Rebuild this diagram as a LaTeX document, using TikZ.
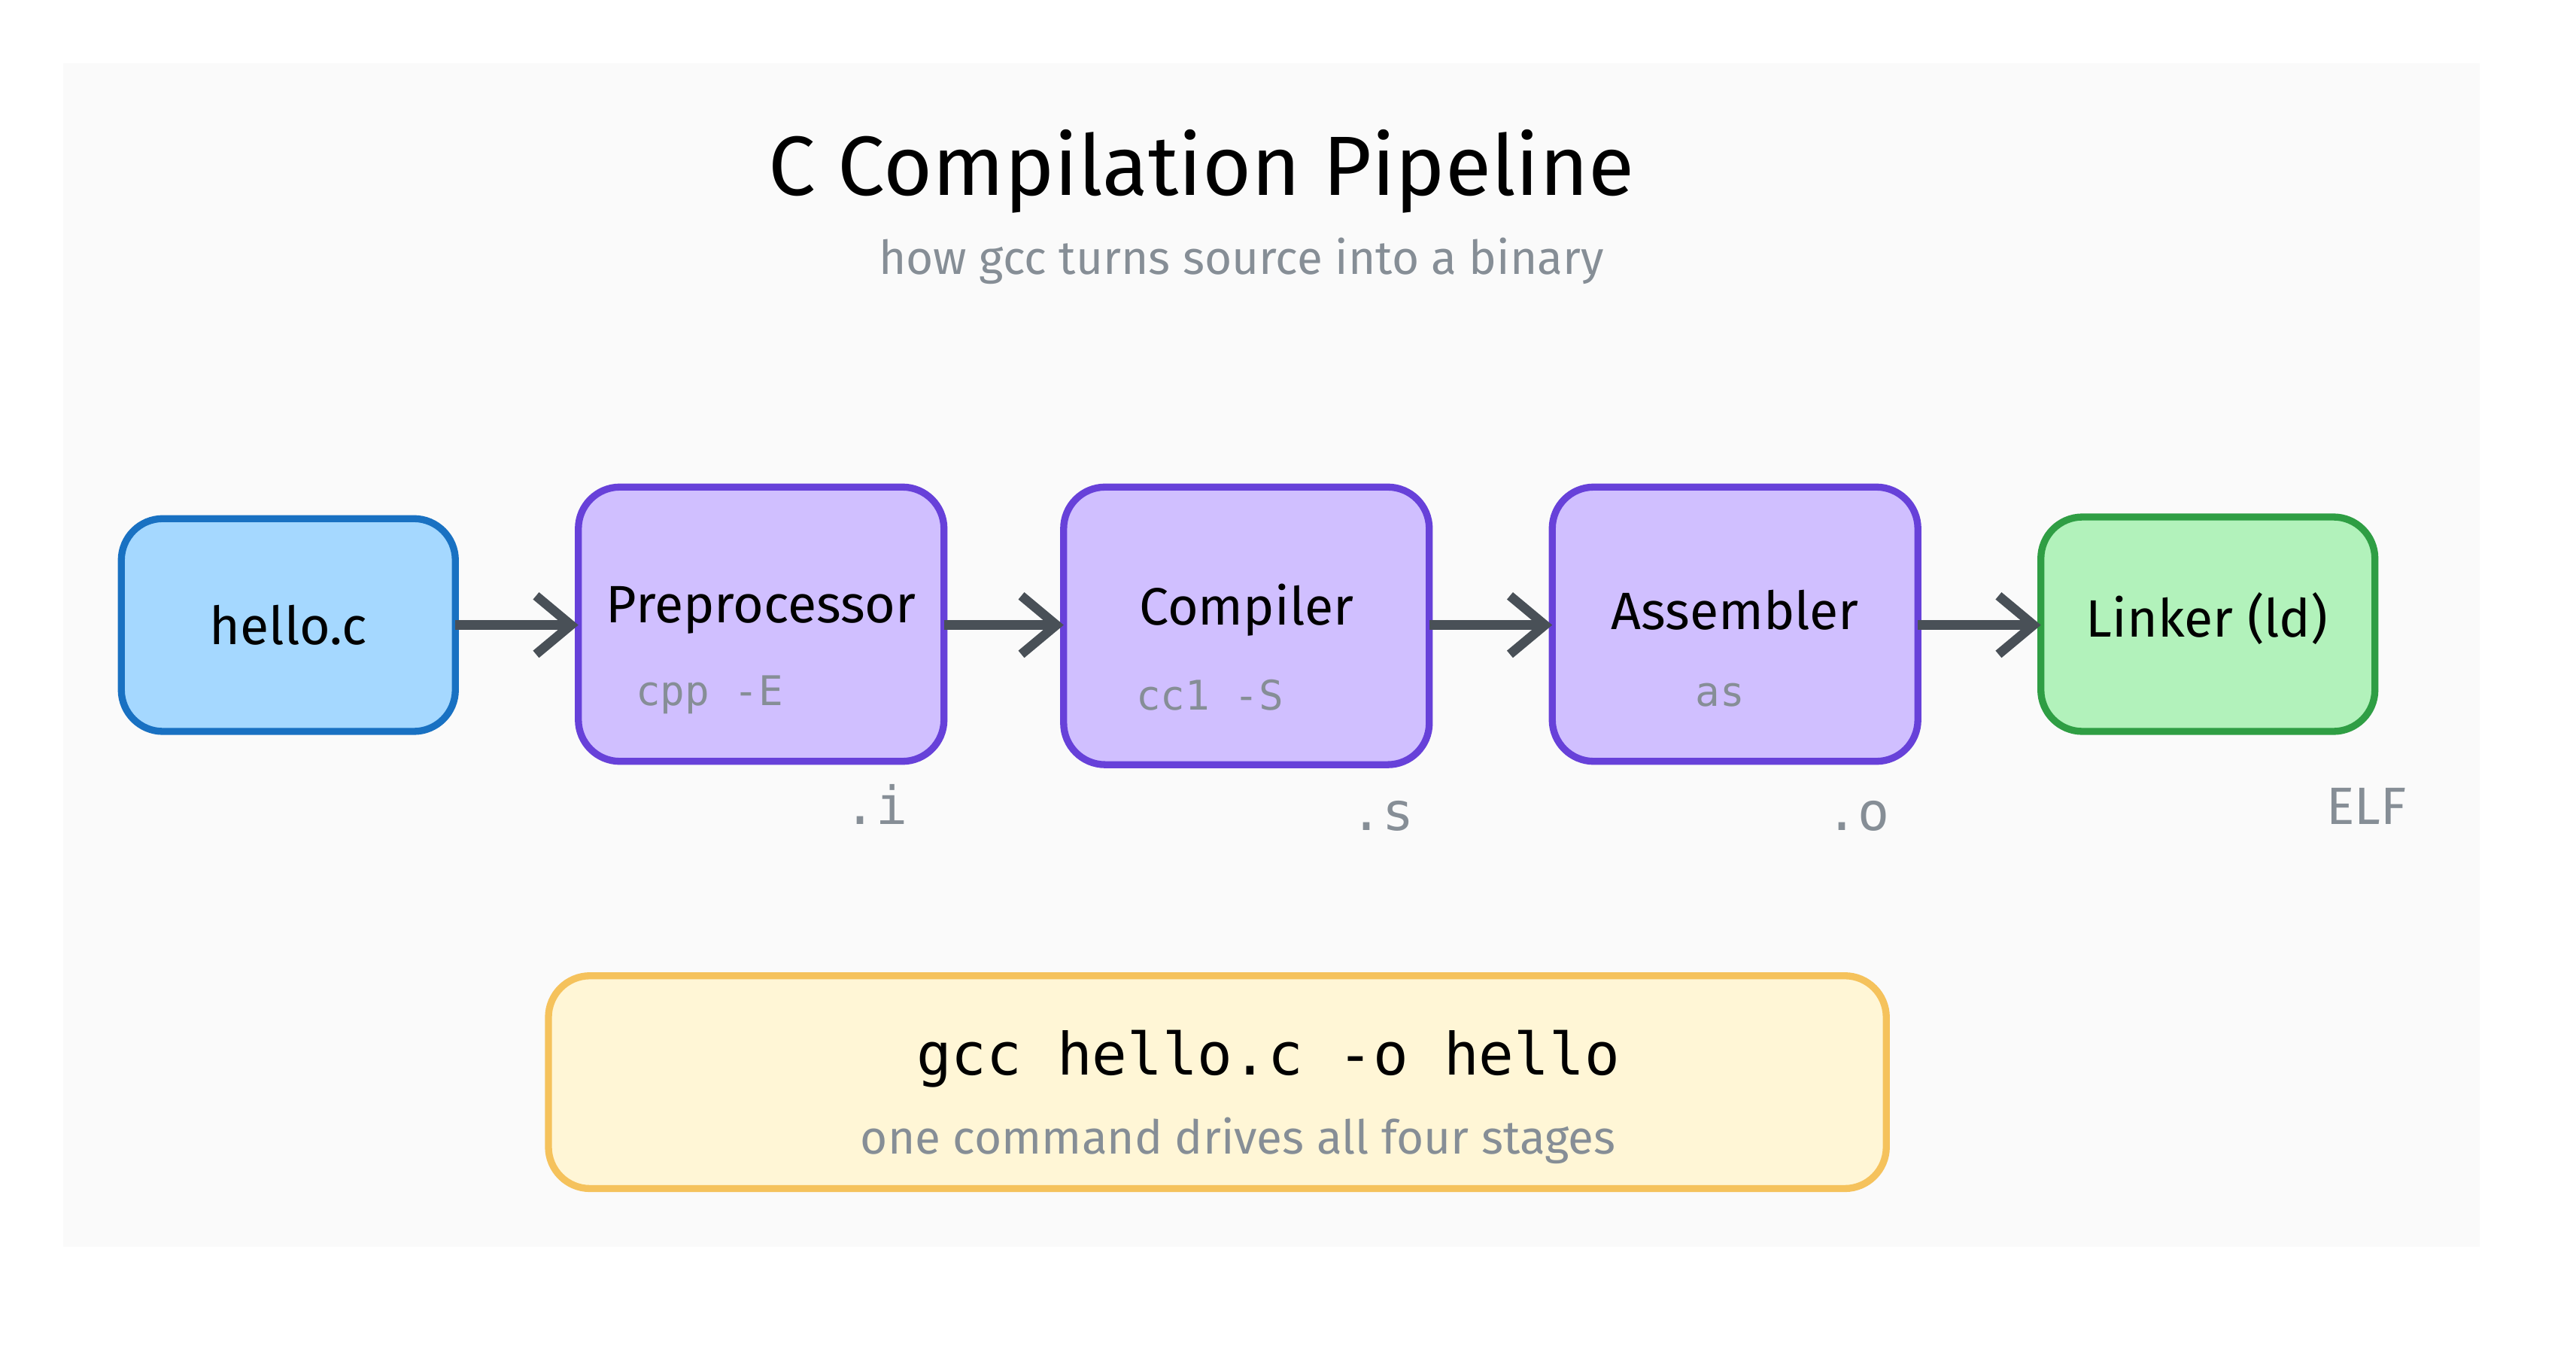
\documentclass[tikz,border=0pt]{standalone}
\usepackage{fontspec}
\setmainfont{Fira Sans}
\setmonofont{DejaVu Sans Mono}
\usetikzlibrary{arrows.meta}
\definecolor{bgpage}{HTML}{FAFAFA}
\definecolor{srcfill}{HTML}{A5D8FF}
\definecolor{srcline}{HTML}{1971C2}
\definecolor{stagefill}{HTML}{D0BFFF}
\definecolor{stageline}{HTML}{6741D9}
\definecolor{linkfill}{HTML}{B2F2BB}
\definecolor{linkline}{HTML}{2F9E44}
\definecolor{cmdfill}{HTML}{FFF6D6}
\definecolor{cmdline}{HTML}{F5C25C}
\definecolor{arrowcol}{HTML}{495057}
\definecolor{softgray}{HTML}{868E96}
\tikzset{
    box/.style={rounded corners=0.25cm, line width=1.2pt},
    stage/.style={box, fill=stagefill, draw=stageline},
    lbl/.style={font=\small},
    tool/.style={font=\ttfamily\scriptsize, text=softgray},
    ext/.style={font=\ttfamily\small, text=softgray},
    flow/.style={-{Straight Barb[length=6pt,width=10pt]}, line width=1.6pt, draw=arrowcol}
}
\begin{document}
\begin{tikzpicture}[x=1cm,y=-1cm]
    \useasboundingbox (0,0) rectangle (15.5,8.153);
    %Background
    \fill[bgpage] (0.38,0.38) rectangle (14.92,7.5);
    %Title
    \node (title) at (7.23,1.03) {\Large\fontseries{m}\selectfont C Compilation Pipeline};
    \node[text=softgray] (subtitle) at (7.47,1.57) {\footnotesize how gcc turns source into a binary};
    %Source
    \draw[box, fill=srcfill, draw=srcline] (0.73,3.12) rectangle (2.74,4.40);
    \node[lbl] (src) at (1.735,3.76) {hello.c};
    \coordinate (srcR) at (2.74,3.76);
    %Preprocessor
    \draw[stage] (3.48,2.93) rectangle (5.68,4.58);
    \node[lbl] (pre) at (4.58,3.67) {Preprocessor};
    \node[tool] (preTool) at (4.27,4.18) {cpp -E};
    \coordinate (preL) at (3.48,3.76);
    \coordinate (preR) at (5.68,3.76);
    %Compiler
    \draw[stage] (6.40,2.93) rectangle (8.60,4.60);
    \node[lbl] (comp) at (7.50,3.67) {Compiler};
    \node[tool] (compTool) at (7.28,4.18) {cc1 -S};
    \coordinate (compL) at (6.40,3.76);
    \coordinate (compR) at (8.60,3.76);
    %Assembler
    \draw[stage] (9.34,2.93) rectangle (11.54,4.58);
    \node[lbl] (asm) at (10.44,3.67) {Assembler};
    \node[tool] (asmTool) at (10.35,4.18) {as};
    \coordinate (asmL) at (9.34,3.76);
    \coordinate (asmR) at (11.54,3.76);
    %Linker
    \draw[box, fill=linkfill, draw=linkline] (12.28,3.11) rectangle (14.29,4.40);
    \node[lbl] (link) at (13.28,3.72) {Linker (ld)};
    \coordinate (linkL) at (12.28,3.76);
    %Arrows
    \draw[flow] (srcR) -- (preL);
    \draw[flow] (preR) -- (compL);
    \draw[flow] (compR) -- (asmL);
    \draw[flow] (asmR) -- (linkL);
    %Outputs
    \node[ext] (extI) at (5.27,4.84) {.i};
    \node[ext] (extS) at (8.32,4.91) {.s};
    \node[ext] (extO) at (11.18,4.91) {.o};
    \node[text=softgray, font=\small] (extElf) at (14.24,4.85) {ELF};
    %Command
    \draw[box, fill=cmdfill, draw=cmdline] (3.30,5.87) rectangle (11.35,7.15);
    \node (cmd) at (7.63,6.37) {\ttfamily\fontseries{m}\selectfont\normalsize gcc hello.c -o hello};
    \node[text=softgray] (cmdNote) at (7.45,6.86) {\footnotesize one command drives all four stages};
\end{tikzpicture}
\end{document}
